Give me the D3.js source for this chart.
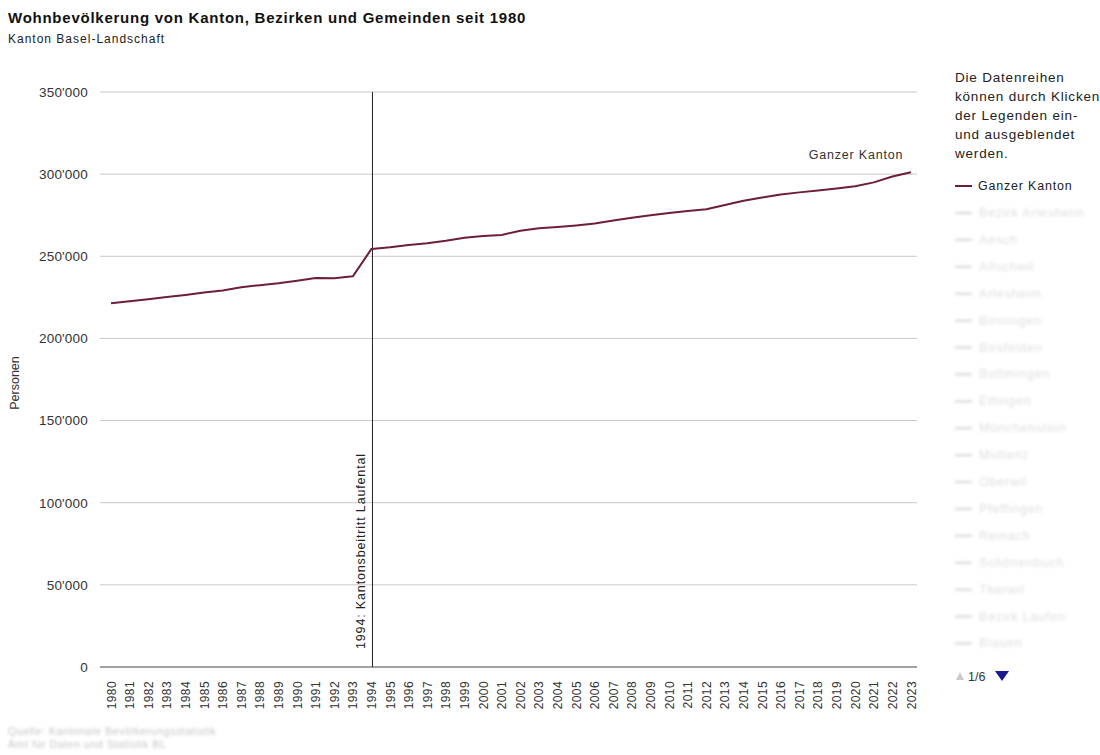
<!DOCTYPE html>
<html>
<head>
<meta charset="utf-8">
<script src="https://cdn.jsdelivr.net/npm/d3@7"></script>
<style>
  body { margin: 0; background: #fff; }
  svg { font-family: "Liberation Sans", Arial, sans-serif; }
</style>
</head>
<body>
<svg id="chart" width="1100" height="755"></svg>
<script>
// Daten: Wohnbevölkerung Kanton Basel-Landschaft
var years = d3.range(1980, 2024);
var population = [
  221400, 222600, 223900, 225200, 226500, 228000, 229200, 231200, 232400, 233600,
  235100, 236800, 236600, 237800, 254500, 255500, 256800, 258000, 259500, 261300,
  262300, 263000, 265600, 267000, 267800, 268800, 270000, 271800, 273500, 275000,
  276300, 277600, 278600, 281200, 283800, 285800, 287600, 288900, 290000, 291300,
  292600, 295000, 298600, 301200
];
var yTicks = [0, 50000, 100000, 150000, 200000, 250000, 300000, 350000];
var seriesName = "Ganzer Kanton";
var markerYear = 1994;
var markerLabel = "1994: Kantonsbeitritt Laufental";
var legendNote = ["Die Datenreihen", "können durch Klicken", "der Legenden ein-", "und ausgeblendet", "werden."];
var otherSeries = ["Bezirk Arlesheim", "Aesch", "Allschwil", "Arlesheim", "Binningen", "Birsfelden",
  "Bottmingen", "Ettingen", "Münchenstein", "Muttenz", "Oberwil", "Pfeffingen", "Reinach",
  "Schönenbuch", "Therwil", "Bezirk Laufen", "Blauen"];
var sourceLines = ["Quelle: Kantonale Bevölkerungsstatistik", "Amt für Daten und Statistik BL"];

var lineColor = "#6d1f35";

var svg = d3.select("#chart");

// blur filter for the greyed-out texts
svg.append("defs").append("filter")
    .attr("id", "blur")
  .append("feGaussianBlur")
    .attr("stdDeviation", 1.8);

// title
svg.append("text")
    .attr("x", 8).attr("y", 23)
    .attr("font-size", "15px").attr("font-weight", "bold").attr("fill", "#111")
    .attr("letter-spacing", "0.75px")
    .text("Wohnbevölkerung von Kanton, Bezirken und Gemeinden seit 1980");
svg.append("text")
    .attr("x", 8).attr("y", 43)
    .attr("font-size", "12px").attr("fill", "#222")
    .attr("letter-spacing", "1px")
    .text("Kanton Basel-Landschaft");

var margin = {left: 111, right: 189, top: 92, bottom: 88};
var width = 1100 - margin.left - margin.right,
    height = 755 - margin.top - margin.bottom;

var g = svg.append("g")
    .attr("transform", "translate(" + margin.left + "," + margin.top + ")");

var x = d3.scalePoint().domain(years).range([0, width]);
var y = d3.scaleLinear().domain([0, 350000]).range([height, 0]);

var fmt = function(v) { return d3.format(",")(v).replace(/,/g, "'"); };

// gridlines
g.append("g").selectAll("line")
    .data(yTicks)
    .enter().append("line")
    .attr("x1", -11).attr("x2", width + 6)
    .attr("y1", function(d) { return y(d); })
    .attr("y2", function(d) { return y(d); })
    .attr("stroke", function(d) { return d === 0 ? "#444" : "#c8c8c8"; })
    .attr("stroke-width", 1);

// Y axis labels
var yAxis = g.append("g")
    .call(d3.axisLeft(y).tickValues(yTicks).tickFormat(fmt).tickSize(0).tickPadding(23));
yAxis.select(".domain").remove();
yAxis.selectAll("text")
    .attr("font-family", "Liberation Sans, Arial, sans-serif")
    .attr("font-size", "13.5px").attr("fill", "#333")
    .attr("letter-spacing", "0.2px");

svg.append("text")
    .attr("transform", "translate(19,383) rotate(-90)")
    .attr("text-anchor", "middle")
    .attr("font-size", "12.5px").attr("fill", "#333")
    .text("Personen");

// X axis
var xAxis = g.append("g")
    .attr("transform", "translate(0," + height + ")")
    .call(d3.axisBottom(x).tickSize(0).tickPadding(0));
xAxis.select(".domain").remove();
xAxis.selectAll("text")
    .attr("font-family", "Liberation Sans, Arial, sans-serif")
    .attr("font-size", "12px").attr("fill", "#333")
    .attr("letter-spacing", "0.4px")
    .attr("text-anchor", "end")
    .attr("dy", null)
    .attr("transform", "translate(4,14) rotate(-90)");

// marker line 1994
g.append("line")
    .attr("x1", x(markerYear) + 1).attr("x2", x(markerYear) + 1)
    .attr("y1", 0).attr("y2", height)
    .attr("stroke", "#222").attr("stroke-width", 1);
g.append("text")
    .attr("transform", "translate(" + (x(markerYear) - 6) + "," + (height - 18) + ") rotate(-90)")
    .attr("font-size", "12.5px").attr("fill", "#222")
    .attr("letter-spacing", "0.85px")
    .text(markerLabel);

// series line
var line = d3.line()
    .x(function(d, i) { return x(years[i]); })
    .y(function(d) { return y(d); });

g.append("path")
    .datum(population)
    .attr("fill", "none")
    .attr("stroke", lineColor)
    .attr("stroke-width", 2)
    .attr("stroke-linejoin", "round")
    .attr("d", line);

g.append("text")
    .attr("x", x(2023) - 55).attr("y", y(population[population.length - 1]) - 13)
    .attr("text-anchor", "middle")
    .attr("font-size", "12.5px").attr("fill", "#333")
    .attr("letter-spacing", "0.8px")
    .text(seriesName);

// legend
var lg = svg.append("g").attr("transform", "translate(955,0)");
lg.selectAll("text.note")
    .data(legendNote)
    .enter().append("text")
    .attr("class", "note")
    .attr("x", 0).attr("y", function(d, i) { return 82 + i * 19; })
    .attr("font-size", "13.5px").attr("fill", "#222")
    .attr("letter-spacing", "0.8px")
    .text(function(d) { return d; });

lg.append("line")
    .attr("x1", 0).attr("x2", 17).attr("y1", 186).attr("y2", 186)
    .attr("stroke", lineColor).attr("stroke-width", 2);
lg.append("text")
    .attr("x", 23).attr("y", 190)
    .attr("font-size", "12.5px").attr("fill", "#222")
    .attr("letter-spacing", "0.8px")
    .text(seriesName);

var others = lg.append("g").attr("filter", "url(#blur)");
var item = others.selectAll("g")
    .data(otherSeries)
    .enter().append("g")
    .attr("transform", function(d, i) { return "translate(0," + (213 + i * 26.9) + ")"; });
item.append("line")
    .attr("x1", 0).attr("x2", 17)
    .attr("stroke", "#d4d4d4").attr("stroke-width", 2);
item.append("text")
    .attr("x", 24).attr("y", 4)
    .attr("font-size", "12.5px").attr("fill", "#dedede")
    .attr("letter-spacing", "0.8px")
    .text(function(d) { return d; });

// pager
lg.append("path")
    .attr("d", "M1,680 L5,672 L9,680 Z")
    .attr("fill", "#cccccc");
lg.append("text")
    .attr("x", 13).attr("y", 681)
    .attr("font-size", "12.5px").attr("fill", "#333")
    .text("1/6");
lg.append("path")
    .attr("d", "M40,671 L54,671 L47,681 Z")
    .attr("fill", "#1a1a8c");

// source
svg.append("g").attr("filter", "url(#blur)")
    .selectAll("text")
    .data(sourceLines)
    .enter().append("text")
    .attr("x", 8).attr("y", function(d, i) { return 735 + i * 13; })
    .attr("font-size", "10.5px").attr("fill", "#c4c4c4")
    .attr("letter-spacing", "0.6px")
    .text(function(d) { return d; });
</script>
</body>
</html>
